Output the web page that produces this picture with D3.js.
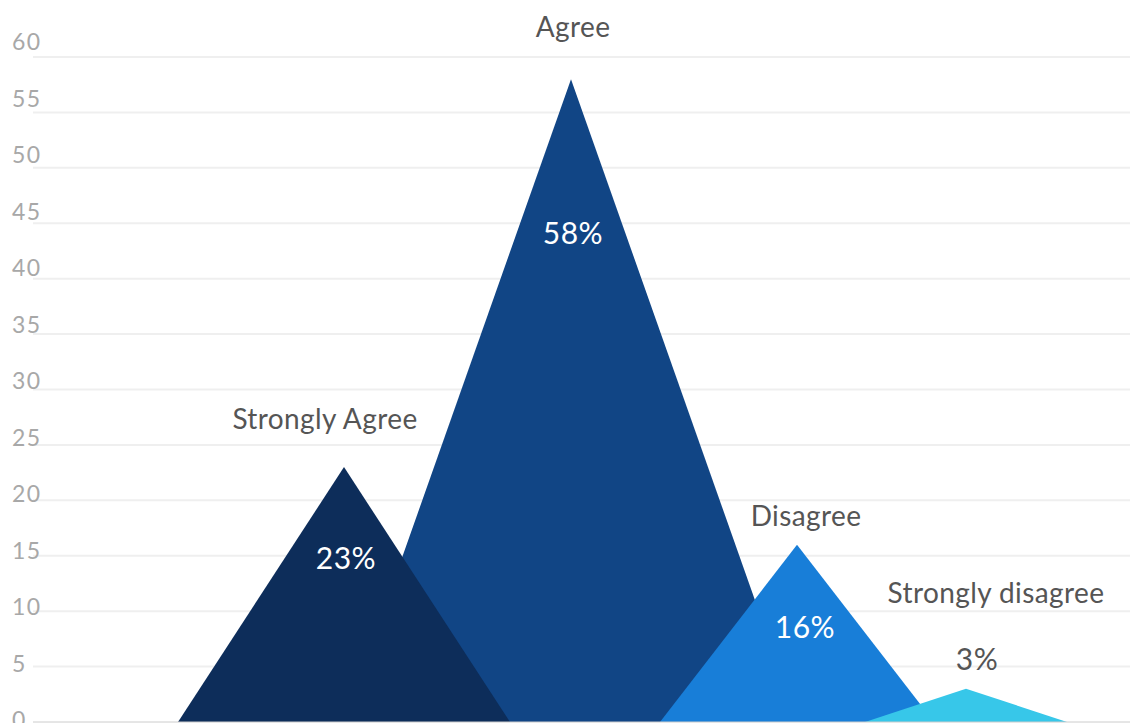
<!DOCTYPE html>
<html>
<head>
<meta charset="utf-8">
<script src="https://cdn.jsdelivr.net/npm/d3@7"></script>
<style>
  html, body { margin: 0; padding: 0; background: #fff; }
  svg { display: block; }
  text { font-family: Lato, "Open Sans", sans-serif; }
</style>
</head>
<body>
<svg id="chart" width="1130" height="723"></svg>
<script>
// Survey responses (percent of respondents)
const categories = ["Strongly Agree", "Agree", "Disagree", "Strongly disagree"];
const values = [23, 58, 16, 3];
const yTicks = [0, 5, 10, 15, 20, 25, 30, 35, 40, 45, 50, 55, 60];

// Styling per category
const colors = ["#0d2d5a", "#114585", "#187ed8", "#37c7e9"];
const valueColors = ["#ffffff", "#ffffff", "#ffffff", "#555555"];

const plot = { left: 33, right: 1130, top: 57, bottom: 722 };

const svg = d3.select("#chart");

const y = d3.scaleLinear().domain([0, 60]).range([plot.bottom, plot.top]);
// tick labels sit on a slightly looser scale than the grid lines
const yLabel = d3.scaleLinear().domain([0, 60]).range([720, 42]);

// peak position and half base width of each triangle
const xCenter = d3.scaleOrdinal().domain(categories).range([344, 571, 797, 966]);
const halfWidth = d3.scaleOrdinal().domain(categories).range([166, 227, 137, 101]);

// label placement relative to the peak (category name above, value inside)
const nameOffset = d3.scaleOrdinal().domain(categories).range([
  { dx: -19, dy: -38 }, { dx: 2, dy: -42 }, { dx: 9, dy: -19 }, { dx: 30, dy: -86 }
]);
const valueOffset = d3.scaleOrdinal().domain(categories).range([
  { dx: 2, dy: 91 }, { dx: 2, dy: 154 }, { dx: 8, dy: 83 }, { dx: 11, dy: -29 }
]);

// grid
svg.append("g")
  .selectAll("line")
  .data(yTicks.filter(t => t > 0))
  .join("line")
  .attr("x1", plot.left).attr("x2", plot.right)
  .attr("y1", d => y(d)).attr("y2", d => y(d))
  .attr("stroke", "#efefef")
  .attr("stroke-width", 2);

// y tick labels
svg.append("g")
  .selectAll("text")
  .data(yTicks)
  .join("text")
  .attr("x", 12)
  .attr("y", d => yLabel(d))
  .attr("dy", "0.35em")
  .attr("fill", "#a8a8a8")
  .attr("font-size", 23)
  .attr("letter-spacing", 1.5)
  .text(d => d);

// triangles, largest drawn first so smaller ones sit on top
const rows = categories.map((c, i) => ({ c, v: values[i], i }));
const order = rows.slice().sort((a, b) => b.v - a.v);

svg.append("g")
  .selectAll("path")
  .data(order)
  .join("path")
  .attr("d", d => {
    const cx = xCenter(d.c), hw = halfWidth(d.c);
    return `M${cx - hw},${y(0)}L${cx},${y(d.v)}L${cx + hw},${y(0)}Z`;
  })
  .attr("fill", d => colors[d.i]);

// baseline
svg.append("line")
  .attr("x1", plot.left).attr("x2", plot.right)
  .attr("y1", y(0)).attr("y2", y(0))
  .attr("stroke", "#cccccc")
  .attr("stroke-width", 1);

// category names
svg.append("g")
  .selectAll("text")
  .data(rows)
  .join("text")
  .attr("x", d => xCenter(d.c) + nameOffset(d.c).dx)
  .attr("y", d => y(d.v) + nameOffset(d.c).dy)
  .attr("text-anchor", "middle")
  .attr("fill", "#555555")
  .attr("font-size", 28)
  .attr("letter-spacing", 0.4)
  .text(d => d.c);

// value labels
svg.append("g")
  .selectAll("text")
  .data(rows)
  .join("text")
  .attr("x", d => xCenter(d.c) + valueOffset(d.c).dx)
  .attr("y", d => y(d.v) + valueOffset(d.c).dy)
  .attr("dy", "0.35em")
  .attr("text-anchor", "middle")
  .attr("fill", d => valueColors[d.i])
  .attr("font-size", 30)
  .attr("letter-spacing", 0.5)
  .text(d => d.v + "%");
</script>
</body>
</html>
